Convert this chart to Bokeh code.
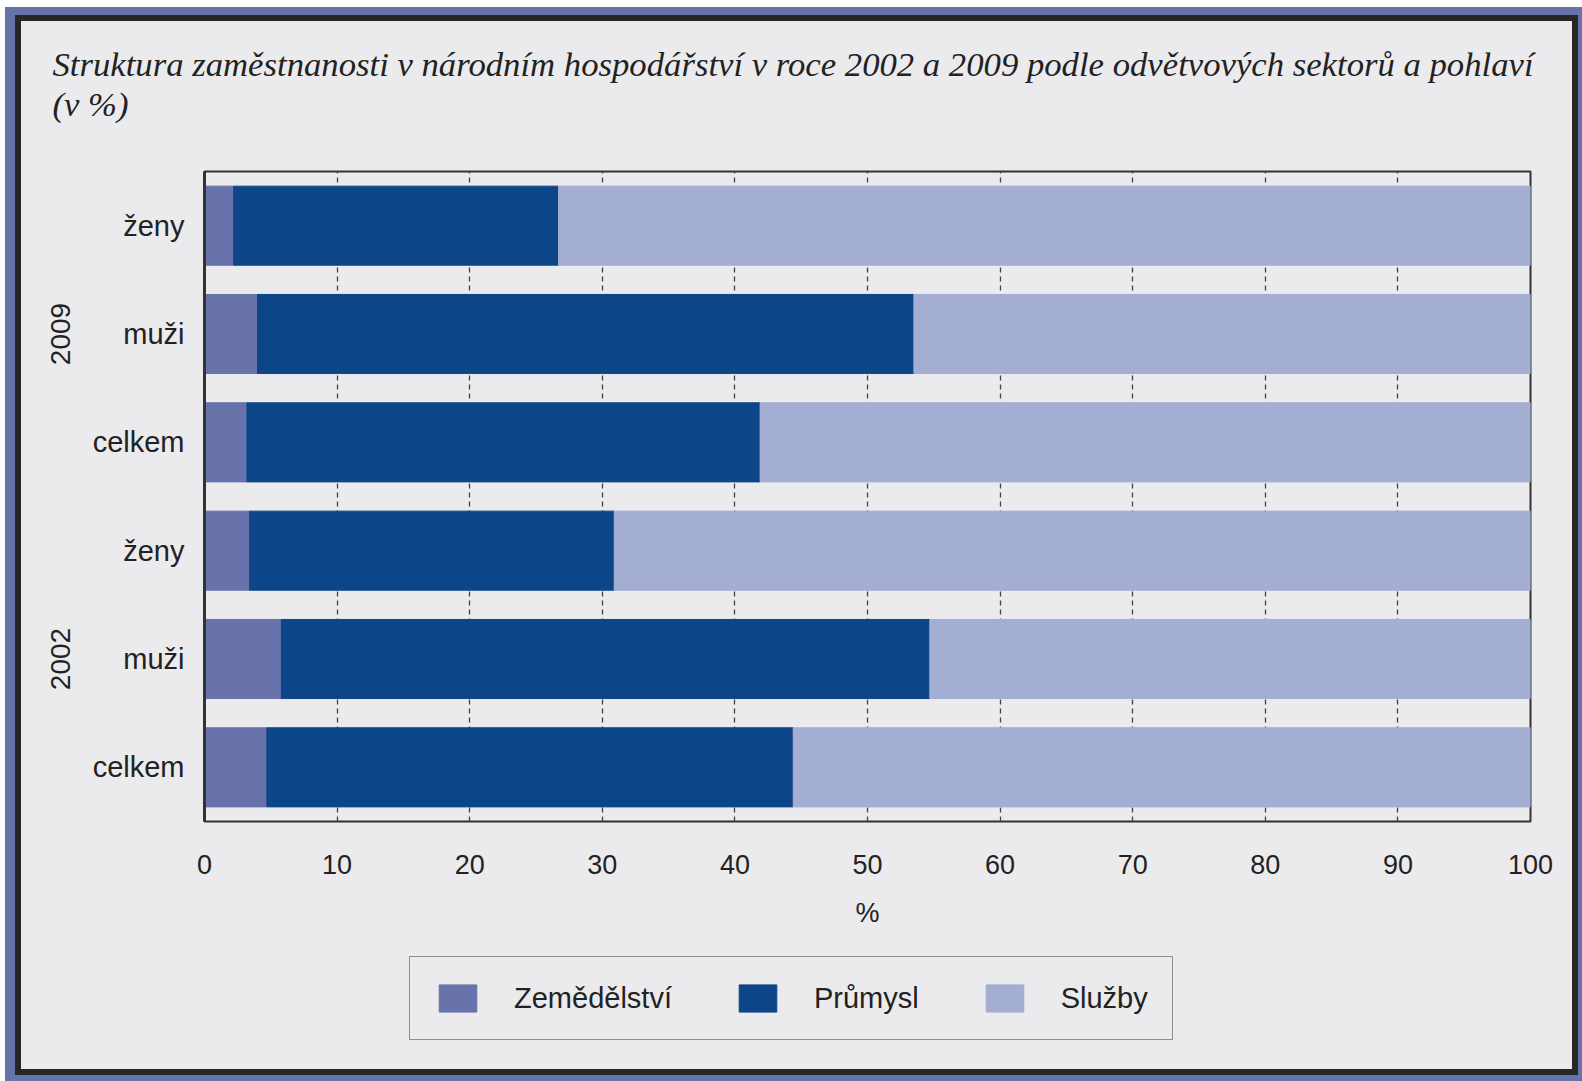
from bokeh.plotting import figure
from bokeh.models import (FactorRange, Range1d, FixedTicker, Legend, LegendItem,
                          ColumnDataSource)
from bokeh.layouts import column
from bokeh.embed import file_html
from bokeh.resources import INLINE

# ---- data ----
years = ["2002", "2002", "2002", "2009", "2009", "2009"]
groups = ["celkem", "muži", "ženy", "celkem", "muži", "ženy"]
agriculture = [4.7, 5.8, 3.4, 3.2, 4.0, 2.2]   # Zemědělství
industry = [39.7, 48.9, 27.5, 38.7, 49.5, 24.5]  # Průmysl
services = [55.6, 45.3, 69.1, 58.1, 46.5, 73.3]  # Služby
series_names = ["Zemědělství", "Průmysl", "Služby"]
x_ticks = [0, 10, 20, 30, 40, 50, 60, 70, 80, 90, 100]
title_line1 = "Struktura zaměstnanosti v národním hospodářství v roce 2002 a 2009 podle odvětvových sektorů a pohlaví"
title_line2 = "(v %)"

colors = ["#6773aa", "#0c4688", "#a4add2"]
BG = "#ebebed"
TXT = "#222222"
FONT = "Liberation Sans"
W = 1551

factors = [(y, g) for y, g in zip(years, groups)]
source = ColumnDataSource(dict(cat=factors, agri=agriculture, ind=industry, serv=services))

p = figure(width=W, height=910,
           y_range=FactorRange(*factors, group_padding=0, factor_padding=0, range_padding=0),
           x_range=Range1d(0, 100),
           output_backend="svg", toolbar_location=None,
           min_border_left=183, min_border_right=42,
           min_border_top=150, min_border_bottom=110)
p.background_fill_color = BG
p.border_fill_color = BG
p.outline_line_color = "#333333"
p.outline_line_width = 2

# title (two lines; a blank third line lifts the block away from the frame)
p.title.text = title_line1 + "\n" + title_line2 + "\n "
p.title.align = "left"
p.title.offset = -152
p.title.standoff = 16
p.title.text_font = "Liberation Serif"
p.title.text_font_style = "italic"
p.title.text_font_size = "34.7px"
p.title.text_color = TXT
p.title.text_line_height = 1.02

rs = p.hbar_stack(["agri", "ind", "serv"], y="cat", height=0.73, color=colors, source=source)

# grid
p.ygrid.grid_line_color = None
p.xgrid.ticker = FixedTicker(ticks=x_ticks)
p.xgrid.grid_line_color = "#444444"
p.xgrid.grid_line_width = 1.3
p.xgrid.grid_line_dash = "5 4"

# x axis
xa = p.xaxis[0]
xa.ticker = FixedTicker(ticks=x_ticks)
xa.axis_label = "%"
xa.axis_line_color = None
xa.major_tick_line_color = None
xa.minor_tick_line_color = None
xa.major_tick_out = 0
xa.major_label_standoff = 33
xa.major_label_text_font = FONT
xa.major_label_text_font_size = "27px"
xa.major_label_text_color = TXT
xa.axis_label_text_font = FONT
xa.axis_label_text_font_size = "27px"
xa.axis_label_text_font_style = "normal"
xa.axis_label_text_color = TXT
xa.axis_label_standoff = 21

# y axis (nested categories)
ya = p.yaxis[0]
ya.axis_line_color = "#333333"
ya.axis_line_width = 3
ya.major_tick_line_color = None
ya.minor_tick_line_color = None
ya.major_tick_out = 0
ya.major_label_standoff = 20
ya.major_label_text_font = FONT
ya.major_label_text_font_size = "29px"
ya.major_label_text_color = TXT
ya.group_text_font = FONT
ya.group_text_font_size = "28px"
ya.group_text_font_style = "normal"
ya.group_text_color = TXT
ya.separator_line_color = None

# ---- legend strip (own small canvas so nothing is clipped) ----
p2 = figure(width=W, height=138, x_range=Range1d(0, 100),
            y_range=FactorRange(*factors),
            x_axis_type=None, y_axis_type=None, output_backend="svg",
            toolbar_location=None, min_border=0)
p2.background_fill_color = BG
p2.border_fill_color = BG
p2.outline_line_color = None
rs2 = p2.hbar_stack(["agri", "ind", "serv"], y="cat", height=0.73, color=colors, source=source)
for r in rs2:
    r.visible = False   # only their legend swatches are shown
legend = Legend(items=[LegendItem(label=n, renderers=[r]) for n, r in zip(series_names, rs2)],
                location=(205, 29), orientation="horizontal", click_policy="none",
                glyph_width=47, glyph_height=34, label_standoff=33, spacing=62,
                padding=24, margin=0,
                label_text_font=FONT, label_text_font_size="29px", label_text_color=TXT,
                border_line_color="#333333", border_line_width=1.5,
                background_fill_color=BG, background_fill_alpha=1)
p2.add_layout(legend, "center")

inner = column(p, p2, spacing=0, styles={"border": "6px solid #262626", "background-color": BG})
blue = column(inner, styles={"background-color": "#6673a8", "padding": "8px 4px 6px 10px"})
page = column(blue, styles={"background-color": "#ffffff", "padding": "7px 0px 0px 5px"})

open("out.html", "w").write(file_html(page, INLINE))
